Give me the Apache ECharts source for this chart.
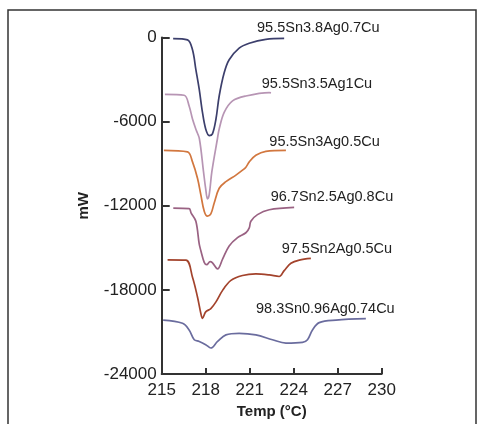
<!DOCTYPE html>
<html>
<head>
<meta charset="utf-8">
<script src="https://cdn.jsdelivr.net/npm/echarts@6/dist/echarts.min.js"></script>
<style>html,body{margin:0;padding:0;background:#fff}#c{width:478px;height:424px}</style>
</head>
<body>
<div id="c"></div>
<script>
// Sample names (labels of each DSC curve)
const sampleNames = ['95.5Sn3.8Ag0.7Cu','95.5Sn3.5Ag1Cu','95.5Sn3Ag0.5Cu','96.7Sn2.5Ag0.8Cu','97.5Sn2Ag0.5Cu','98.3Sn0.96Ag0.74Cu'];
// Tick values
const xTicks = [215,218,221,224,227,230];
const yTicks = [0,-6000,-12000,-18000,-24000];
// Curves: [Temp (°C), mW]
const curve1 = [[215.78,-80],[216.76,-170],[217.1,-880],[217.33,-2290],[217.56,-3700],[217.78,-5340],[218.0,-6520],[218.24,-6990],[218.46,-6870],[218.7,-5810],[218.92,-4170],[219.26,-2520],[219.6,-1590],[220.28,-760],[220.97,-410],[222.1,-130],[223.35,-60]];
const curve2 = [[215.22,-4050],[216.53,-4120],[216.87,-4880],[217.1,-5815],[217.35,-6600],[217.57,-7220],[217.85,-9570],[218.0,-10800],[218.12,-11500],[218.24,-11200],[218.42,-9570],[218.8,-7220],[218.92,-6520],[219.26,-5340],[219.83,-4520],[220.74,-4170],[222.33,-3930],[222.45,-3950]];
const curve3 = [[215.15,-8050],[216.76,-8160],[217.1,-8870],[217.44,-10040],[217.67,-11220],[217.9,-12390],[218.12,-12740],[218.35,-12580],[218.58,-11800],[218.92,-10750],[219.38,-10280],[220.06,-9810],[220.51,-9460],[220.74,-9250],[220.97,-8870],[221.42,-8400],[222.1,-8120],[223.47,-8050]];
const curve4 = [[215.79,-12160],[216.87,-12200],[217.0,-12500],[217.33,-13100],[217.56,-14740],[217.67,-15200],[217.9,-16030],[218.07,-16200],[218.3,-15980],[218.45,-16050],[218.81,-16500],[219.15,-15800],[219.6,-14860],[220.17,-14270],[220.74,-13920],[220.97,-13570],[221.08,-13100],[221.53,-12630],[222.33,-12280],[224.03,-12110]];
const curve5 = [[215.4,-15850],[216.65,-15870],[217.1,-17090],[217.44,-18500],[217.67,-19680],[217.78,-20030],[218.0,-19560],[218.35,-19330],[218.7,-18850],[219.15,-18030],[219.72,-17320],[220.51,-16970],[221.42,-16860],[222.33,-16930],[223.01,-17040],[223.35,-16620],[223.81,-16100],[224.38,-15870],[225.17,-15750]];
const curve6 = [[215.1,-20150],[216.42,-20380],[216.87,-20850],[217.22,-21550],[217.56,-21670],[218.0,-21900],[218.35,-22140],[218.81,-21670],[219.38,-21200],[220.28,-21090],[221.42,-21200],[222.55,-21550],[223.47,-21790],[224.6,-21740],[224.94,-21550],[225.28,-20850],[225.74,-20330],[226.88,-20150],[228.92,-20050]];
// Label anchor points (left-middle of each label) in data units
const labelAnchors = [[221.5,0],[221.82,-3280],[222.34,-7460],[222.43,-11400],[223.18,-15050],[221.43,-19330]];
const labelLift = [10,0,0,0,0,0];

const curves = [curve1,curve2,curve3,curve4,curve5,curve6];
const colors = ['#3c3f6c','#b795b4','#d2773f','#9a6283','#a3432c','#6a6c9e'];
const FONT = '"Liberation Sans", Arial, sans-serif';

const chart = echarts.init(document.getElementById('c'), null, {renderer:'canvas'});
chart.setOption({
  animation:false,
  backgroundColor:'#fff',
  graphic:[{type:'rect',shape:{x:8,y:10,width:468,height:430},style:{fill:'none',stroke:'#333',lineWidth:1.5},silent:true,z:-1}],
  grid:{left:161.7,right:96.3,top:37.5,bottom:45.7},
  xAxis:{type:'value',min:xTicks[0],max:xTicks[xTicks.length-1],interval:3,
    name:'Temp (°C)',nameLocation:'middle',nameGap:29,
    nameTextStyle:{fontFamily:FONT,fontWeight:'bold',fontSize:15,color:'#222'},
    axisLine:{onZero:false,lineStyle:{color:'#333',width:2}},
    axisTick:{inside:true,length:6,lineStyle:{color:'#333',width:2}},
    axisLabel:{fontFamily:FONT,fontSize:17,color:'#222',margin:8},
    splitLine:{show:false}},
  yAxis:{type:'value',min:yTicks[yTicks.length-1],max:yTicks[0],interval:6000,
    name:'mW',nameLocation:'middle',nameGap:70,nameRotate:90,
    nameTextStyle:{fontFamily:FONT,fontWeight:'bold',fontSize:15,color:'#222'},
    axisLine:{onZero:false,lineStyle:{color:'#333',width:2}},
    axisTick:{inside:true,length:8,lineStyle:{color:'#333',width:2}},
    axisLabel:{fontFamily:FONT,fontSize:17,color:'#222',margin:5,formatter:v=>String(v)},
    splitLine:{show:false}},
  series: curves.map((d,i)=>({
    type:'line',name:sampleNames[i],data:d,showSymbol:false,smooth:0.35,
    lineStyle:{color:colors[i],width:1.7},
    clip:false,
    markPoint:{symbol:'circle',symbolSize:0,silent:true,
      data:[{coord:labelAnchors[i],
        label:{show:true,position:'right',distance:0,offset:[0,-labelLift[i]],formatter:sampleNames[i],
          fontFamily:FONT,fontSize:14.5,color:'#222'}}]}
  }))
});
</script>
</body>
</html>
